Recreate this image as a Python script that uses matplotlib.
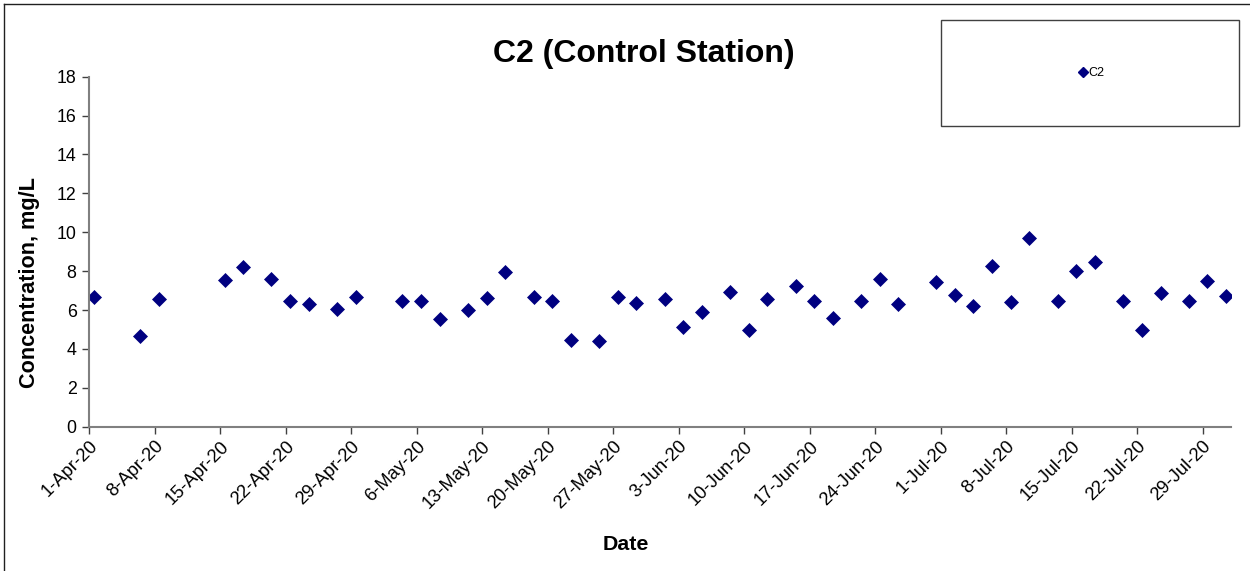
import matplotlib
matplotlib.use("Agg")
import matplotlib.pyplot as plt
from matplotlib.lines import Line2D
from matplotlib.patches import Rectangle
import pandas as pd

plt.rcParams['font.family'] = ['Liberation Sans', 'DejaVu Sans']

dates = ["2020-04-01", "2020-04-06", "2020-04-08", "2020-04-15", "2020-04-17",
         "2020-04-20", "2020-04-22", "2020-04-24", "2020-04-27", "2020-04-29",
         "2020-05-04", "2020-05-06", "2020-05-08", "2020-05-11", "2020-05-13",
         "2020-05-15", "2020-05-18", "2020-05-20", "2020-05-22", "2020-05-25",
         "2020-05-27", "2020-05-29", "2020-06-01", "2020-06-03", "2020-06-05",
         "2020-06-08", "2020-06-10", "2020-06-12", "2020-06-15", "2020-06-17",
         "2020-06-19", "2020-06-22", "2020-06-24", "2020-06-26", "2020-06-30",
         "2020-07-02", "2020-07-04", "2020-07-06", "2020-07-08", "2020-07-10",
         "2020-07-13", "2020-07-15", "2020-07-17", "2020-07-20", "2020-07-22",
         "2020-07-24", "2020-07-27", "2020-07-29", "2020-07-31"]
c2_values = [6.66, 4.68, 6.57, 7.53, 8.23, 7.61, 6.48, 6.29, 6.07, 6.66,
             6.47, 6.47, 5.54, 5.99, 6.64, 7.94, 6.69, 6.45, 4.46, 4.41,
             6.66, 6.35, 6.55, 5.11, 5.90, 6.91, 4.97, 6.58, 7.25, 6.48,
             5.58, 6.48, 7.61, 6.29, 7.43, 6.77, 6.21, 8.25, 6.43, 9.72,
             6.48, 8.03, 8.47, 6.47, 4.97, 6.86, 6.48, 7.49, 6.74]
series_name = "C2"
title = "C2 (Control Station)"
x_label = "Date"
y_label = "Concentration, mg/L"
y_ticks = [0, 2, 4, 6, 8, 10, 12, 14, 16, 18]

W, H = 1250, 571
fig = plt.figure(figsize=(W / 100, H / 100), dpi=100)
fig.patch.set_facecolor('white')

ax = fig.add_axes([89 / W, 1 - 426.7 / H, (1230.7 - 89) / W, (426.7 - 76.7) / H])

x = pd.to_datetime(dates) + pd.Timedelta(hours=12)
ax.plot(x, c2_values, linestyle='none', marker='D', markersize=7.2,
        markerfacecolor='#000080', markeredgecolor='#000080', markeredgewidth=0.5,
        label=series_name)

ax.set_xlim(pd.Timestamp("2020-04-01"), pd.Timestamp("2020-08-01"))
ax.set_ylim(0, 18)
ax.set_yticks(y_ticks)
xt = pd.date_range("2020-04-01", "2020-07-29", freq="7D")
ax.set_xticks(xt)
ax.set_xticklabels([f"{d.day}-{d.strftime('%b')}-{d.strftime('%y')}" for d in xt],
                   rotation=45, ha='right', va='top', rotation_mode='anchor')

for s in ['top', 'right']:
    ax.spines[s].set_visible(False)
for s in ['left', 'bottom']:
    ax.spines[s].set_color('#808080')
    ax.spines[s].set_linewidth(1.5)
ax.tick_params(axis='y', direction='out', length=5, width=1, color='#404040',
               labelsize=12.8, pad=4)
ax.tick_params(axis='x', direction='out', length=5, width=1, color='#404040',
               labelsize=13.2, pad=3)

fig.text(644 / W, 1 - 61.7 / H, title, ha='center', va='baseline',
         fontsize=23, fontweight='bold')
fig.text(626 / W, 1 - 544 / H, x_label, ha='center', va='center',
         fontsize=15.4, fontweight='bold')
fig.text(30 / W, 1 - 283 / H, y_label, ha='center', va='center',
         rotation=90, fontsize=15.6, fontweight='bold')

# legend box
lx0, ly0, lx1, ly1 = 941, 20, 1239, 126
fig.patches.append(Rectangle((lx0 / W, 1 - ly1 / H), (lx1 - lx0) / W, (ly1 - ly0) / H,
                             transform=fig.transFigure, facecolor='white',
                             edgecolor='#404040', linewidth=1.0))
fig.legend(handles=[Line2D([], [], linestyle='none', marker='D', markersize=5,
                           markerfacecolor='#000080', markeredgecolor='#000080')],
           labels=[series_name], loc='center',
           bbox_to_anchor=(1092 / W, 1 - 73 / H), frameon=False,
           fontsize=9, handlelength=0.6, handletextpad=0.1,
           borderpad=0, borderaxespad=0)

# chart-area border
fig.add_artist(Line2D([4 / W, 4 / W], [0, 1 - 4 / H], transform=fig.transFigure,
                      color='#202020', linewidth=1.0))
fig.add_artist(Line2D([4 / W, 1], [1 - 4 / H, 1 - 4 / H], transform=fig.transFigure,
                      color='#202020', linewidth=1.0))

fig.savefig("out.png", dpi=100, facecolor='white')
